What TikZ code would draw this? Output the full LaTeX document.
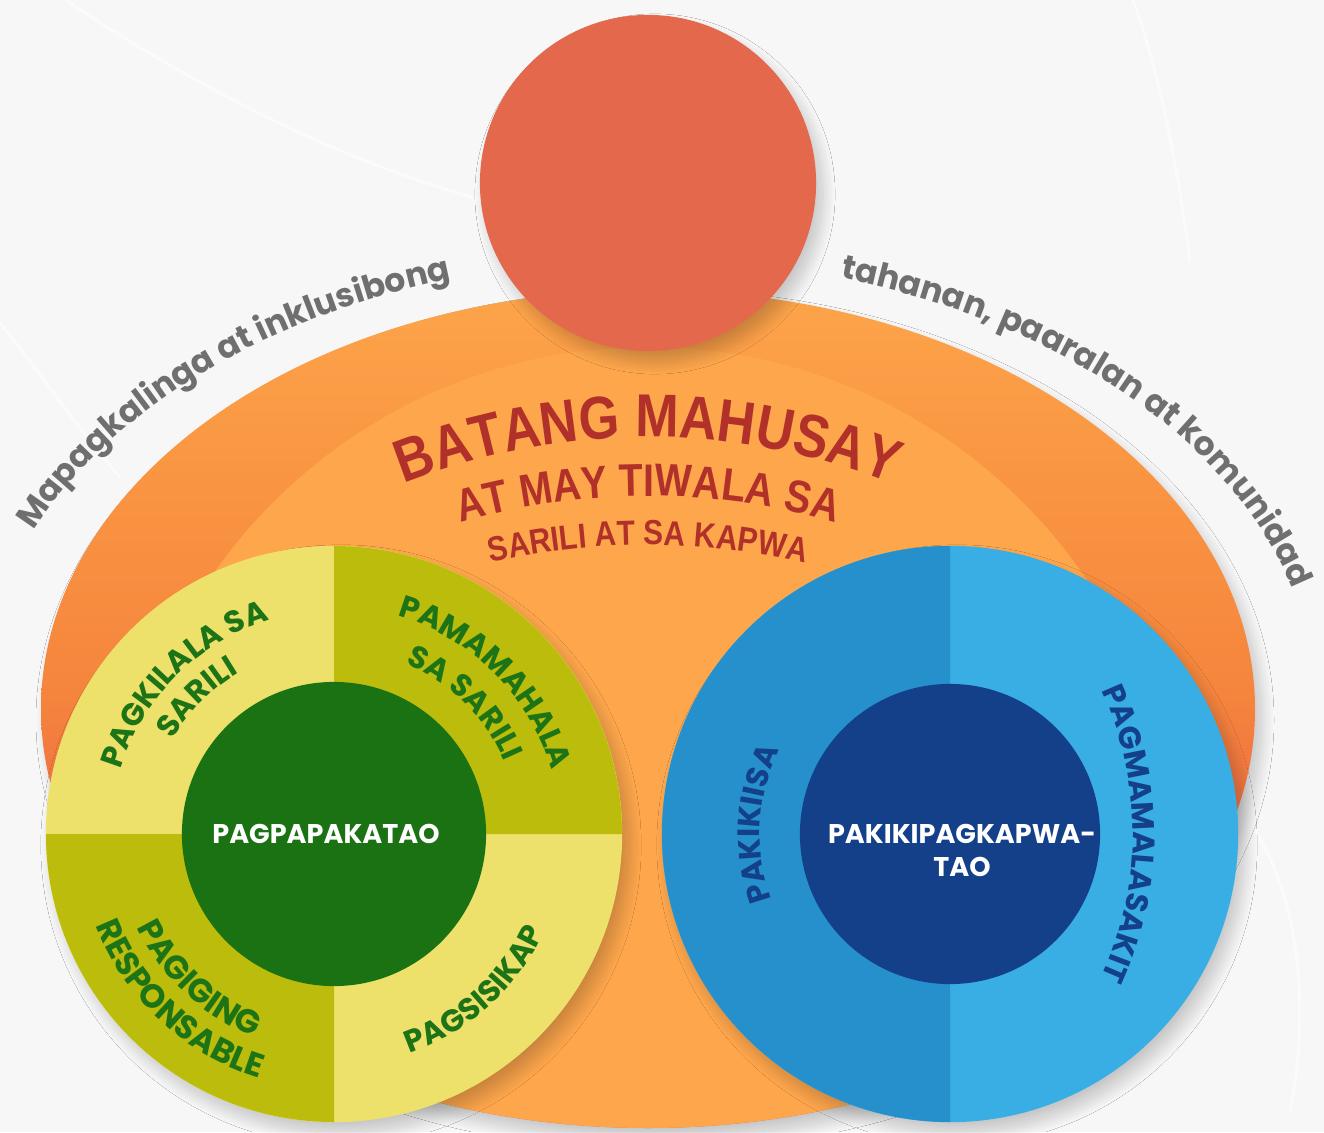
\documentclass[tikz,border=0pt]{standalone}
\usepackage{fontspec}
\setmainfont{Poppins}
\newfontfamily\titlefont[FakeStretch=0.86]{Liberation Sans}
\usetikzlibrary{decorations.text,shadows.blur}

\definecolor{bgpaper}{HTML}{F7F7F7}
\definecolor{headred}{HTML}{E4694C}
\definecolor{bodylight}{HTML}{FDA64C}
\definecolor{bodysoft}{HTML}{FA9843}
\definecolor{bodymid}{HTML}{F5853D}
\definecolor{bodydark}{HTML}{EC6B44}
\definecolor{capgrey}{HTML}{6F6F6F}
\definecolor{titlered}{HTML}{B1312A}
\definecolor{paleyellow}{HTML}{EEE16B}
\definecolor{olive}{HTML}{BBBC0B}
\definecolor{coregreen}{HTML}{1B7212}
\definecolor{leafgreen}{HTML}{1D7416}
\definecolor{deepblue}{HTML}{2590CB}
\definecolor{skyblue}{HTML}{38AEE5}
\definecolor{navyblue}{HTML}{14408A}

% body shading, bottom (25bp) to top (75bp) of the path
\pgfdeclareverticalshading{bodyshade}{100bp}{color(0bp)=(bodydark); color(42bp)=(bodydark);
  color(51bp)=(bodymid); color(66bp)=(bodysoft); color(76bp)=(bodylight); color(100bp)=(bodylight)}

\newcommand\capfont{\bfseries\fontsize{9.4}{11}\selectfont}
\newcommand\titleA{\titlefont\bfseries\fontsize{17.2}{19}\selectfont}
\newcommand\titleB{\titlefont\bfseries\fontsize{13}{15}\selectfont}
\newcommand\titleC{\titlefont\bfseries\fontsize{9.9}{12}\selectfont}
\newcommand\quadfont{\bfseries\fontsize{8.8}{10}\selectfont}
\newcommand\lowfont{\bfseries\fontsize{9.4}{11}\selectfont}
\newcommand\corefont{\bfseries\fontsize{7.7}{9.4}\selectfont}

% text on a circular arc: [options]{centre}{radius}{from}{to}{text}
\newcommand\ringtext[6][]{%
  \path[decorate, decoration={text along path, text align=center, #1, text={#6}}]
    ([shift={(#4:#3)}]#2) arc[start angle=#4, end angle=#5, radius=#3];}

\tikzset{
  softshadow/.style={blur shadow={shadow xshift=0.7mm, shadow yshift=-1.1mm,
      shadow blur radius=1.2mm, shadow blur steps=15, shadow opacity=20}},
  disc/.style={circle, inner sep=0pt, minimum size=#1},
  swoosh/.style={white, line width=0.8pt, opacity=.6},
}

\begin{document}
\begin{tikzpicture}[x=0.01cm, y=0.01cm]
    \useasboundingbox (0,0) rectangle (1324,1132);
    \fill[bgpaper] (0,0) rectangle (1324,1132);
    \draw[swoosh] (65,1132) .. controls (250,1010) and (380,960) .. (490,930);
    \draw[swoosh] (0,809) .. controls (40,760) and (80,700) .. (120,655);
    \draw[swoosh] (1133,1132) .. controls (1160,1060) and (1180,950) .. (1190,870);
    \draw[swoosh] (1255,302) .. controls (1300,230) and (1310,120) .. (1290,20);

    % body
    \path[softshadow, shading=bodyshade]
        (648,423) ellipse [x radius=607, y radius=419];
    \begin{scope}
        \clip (648,423) ellipse [x radius=607, y radius=419];
        \fill[bodylight] (648,255) circle [radius=530];
    \end{scope}

    % head
    \node[disc=3.36cm, fill=headred, softshadow] (head) at (648,949) {};

    % captions round the body
    \path[decorate, decoration={text along path, text align=center, text color=capgrey,
            text={|\capfont|Mapagkalinga at inklusibong}}]
        ([shift={(161.5:669 and 450)}]648,423) arc[start angle=161.5, end angle=103.5, x radius=669, y radius=450];
    \path[decorate, decoration={text along path, text align=center, text color=capgrey,
            text={|\capfont|tahanan, paaralan at komunidad}}]
        ([shift={(77.5:669 and 450)}]648,423) arc[start angle=77.5, end angle=9.5, x radius=669, y radius=450];

    % title
    \ringtext[text color=titlered]{648,33}{662}{125}{55}{|\titleA|BATANG MAHUSAY}
    \ringtext[text color=titlered]{648,-39}{675}{120}{60}{|\titleB|AT MAY TIWALA SA}
    \ringtext[text color=titlered]{648,-115}{702}{115}{65}{|\titleC|SARILI AT SA KAPWA}

    % left wheel
    \node[disc=5.76cm, fill=paleyellow, softshadow] (selfwheel) at (334,298) {};
    \fill[olive] (selfwheel.center) -- ++(90:288) arc[start angle=90, end angle=0, radius=288] -- cycle;
    \fill[olive] (selfwheel.center) -- ++(180:288) arc[start angle=180, end angle=270, radius=288] -- cycle;
    \node[disc=3.04cm, fill=coregreen] (selfcore) at (selfwheel.center) {};
    \node[text=white, font=\corefont] (selflabel) at ([xshift=-0.08cm]selfcore.center) {PAGPAPAKATAO};
    \ringtext[text color=leafgreen]{selfwheel.center}{223}{180}{90}{|\quadfont|PAGKILALA SA}
    \ringtext[text color=leafgreen]{selfwheel.center}{187}{180}{90}{|\quadfont|SARILI}
    \ringtext[text color=leafgreen]{selfwheel.center}{227}{90}{0}{|\quadfont|PAMAMAHALA}
    \ringtext[text color=leafgreen]{selfwheel.center}{185}{90}{0}{|\quadfont|SA SARILI}
    \ringtext[text color=leafgreen]{selfwheel.center}{218}{182}{272}{|\lowfont|PAGIGING}
    \ringtext[text color=leafgreen]{selfwheel.center}{255}{182}{272}{|\lowfont|RESPONSABLE}
    \ringtext[text color=leafgreen]{selfwheel.center}{232}{267}{357}{|\quadfont|PAGSISIKAP}

    % right wheel
    \node[disc=5.76cm, fill=skyblue, softshadow] (otherwheel) at (950,298) {};
    \fill[deepblue] (otherwheel.center) -- ++(90:288) arc[start angle=90, end angle=270, radius=288] -- cycle;
    \node[disc=3.0cm, fill=navyblue] (othercore) at (otherwheel.center) {};
    \node[text=white, font=\corefont, align=center] (otherlabel) at ([xshift=0.12cm, yshift=-0.16cm]othercore.center) {PAKIKIPAGKAPWA-\\TAO};
    \ringtext[text color=navyblue]{otherwheel.center}{190}{212}{142}{|\quadfont|PAKIKIISA}
    \ringtext[text color=navyblue]{790,298}{343}{30}{-30}{|\quadfont|PAGMAMALASAKIT}
\end{tikzpicture}
\end{document}
